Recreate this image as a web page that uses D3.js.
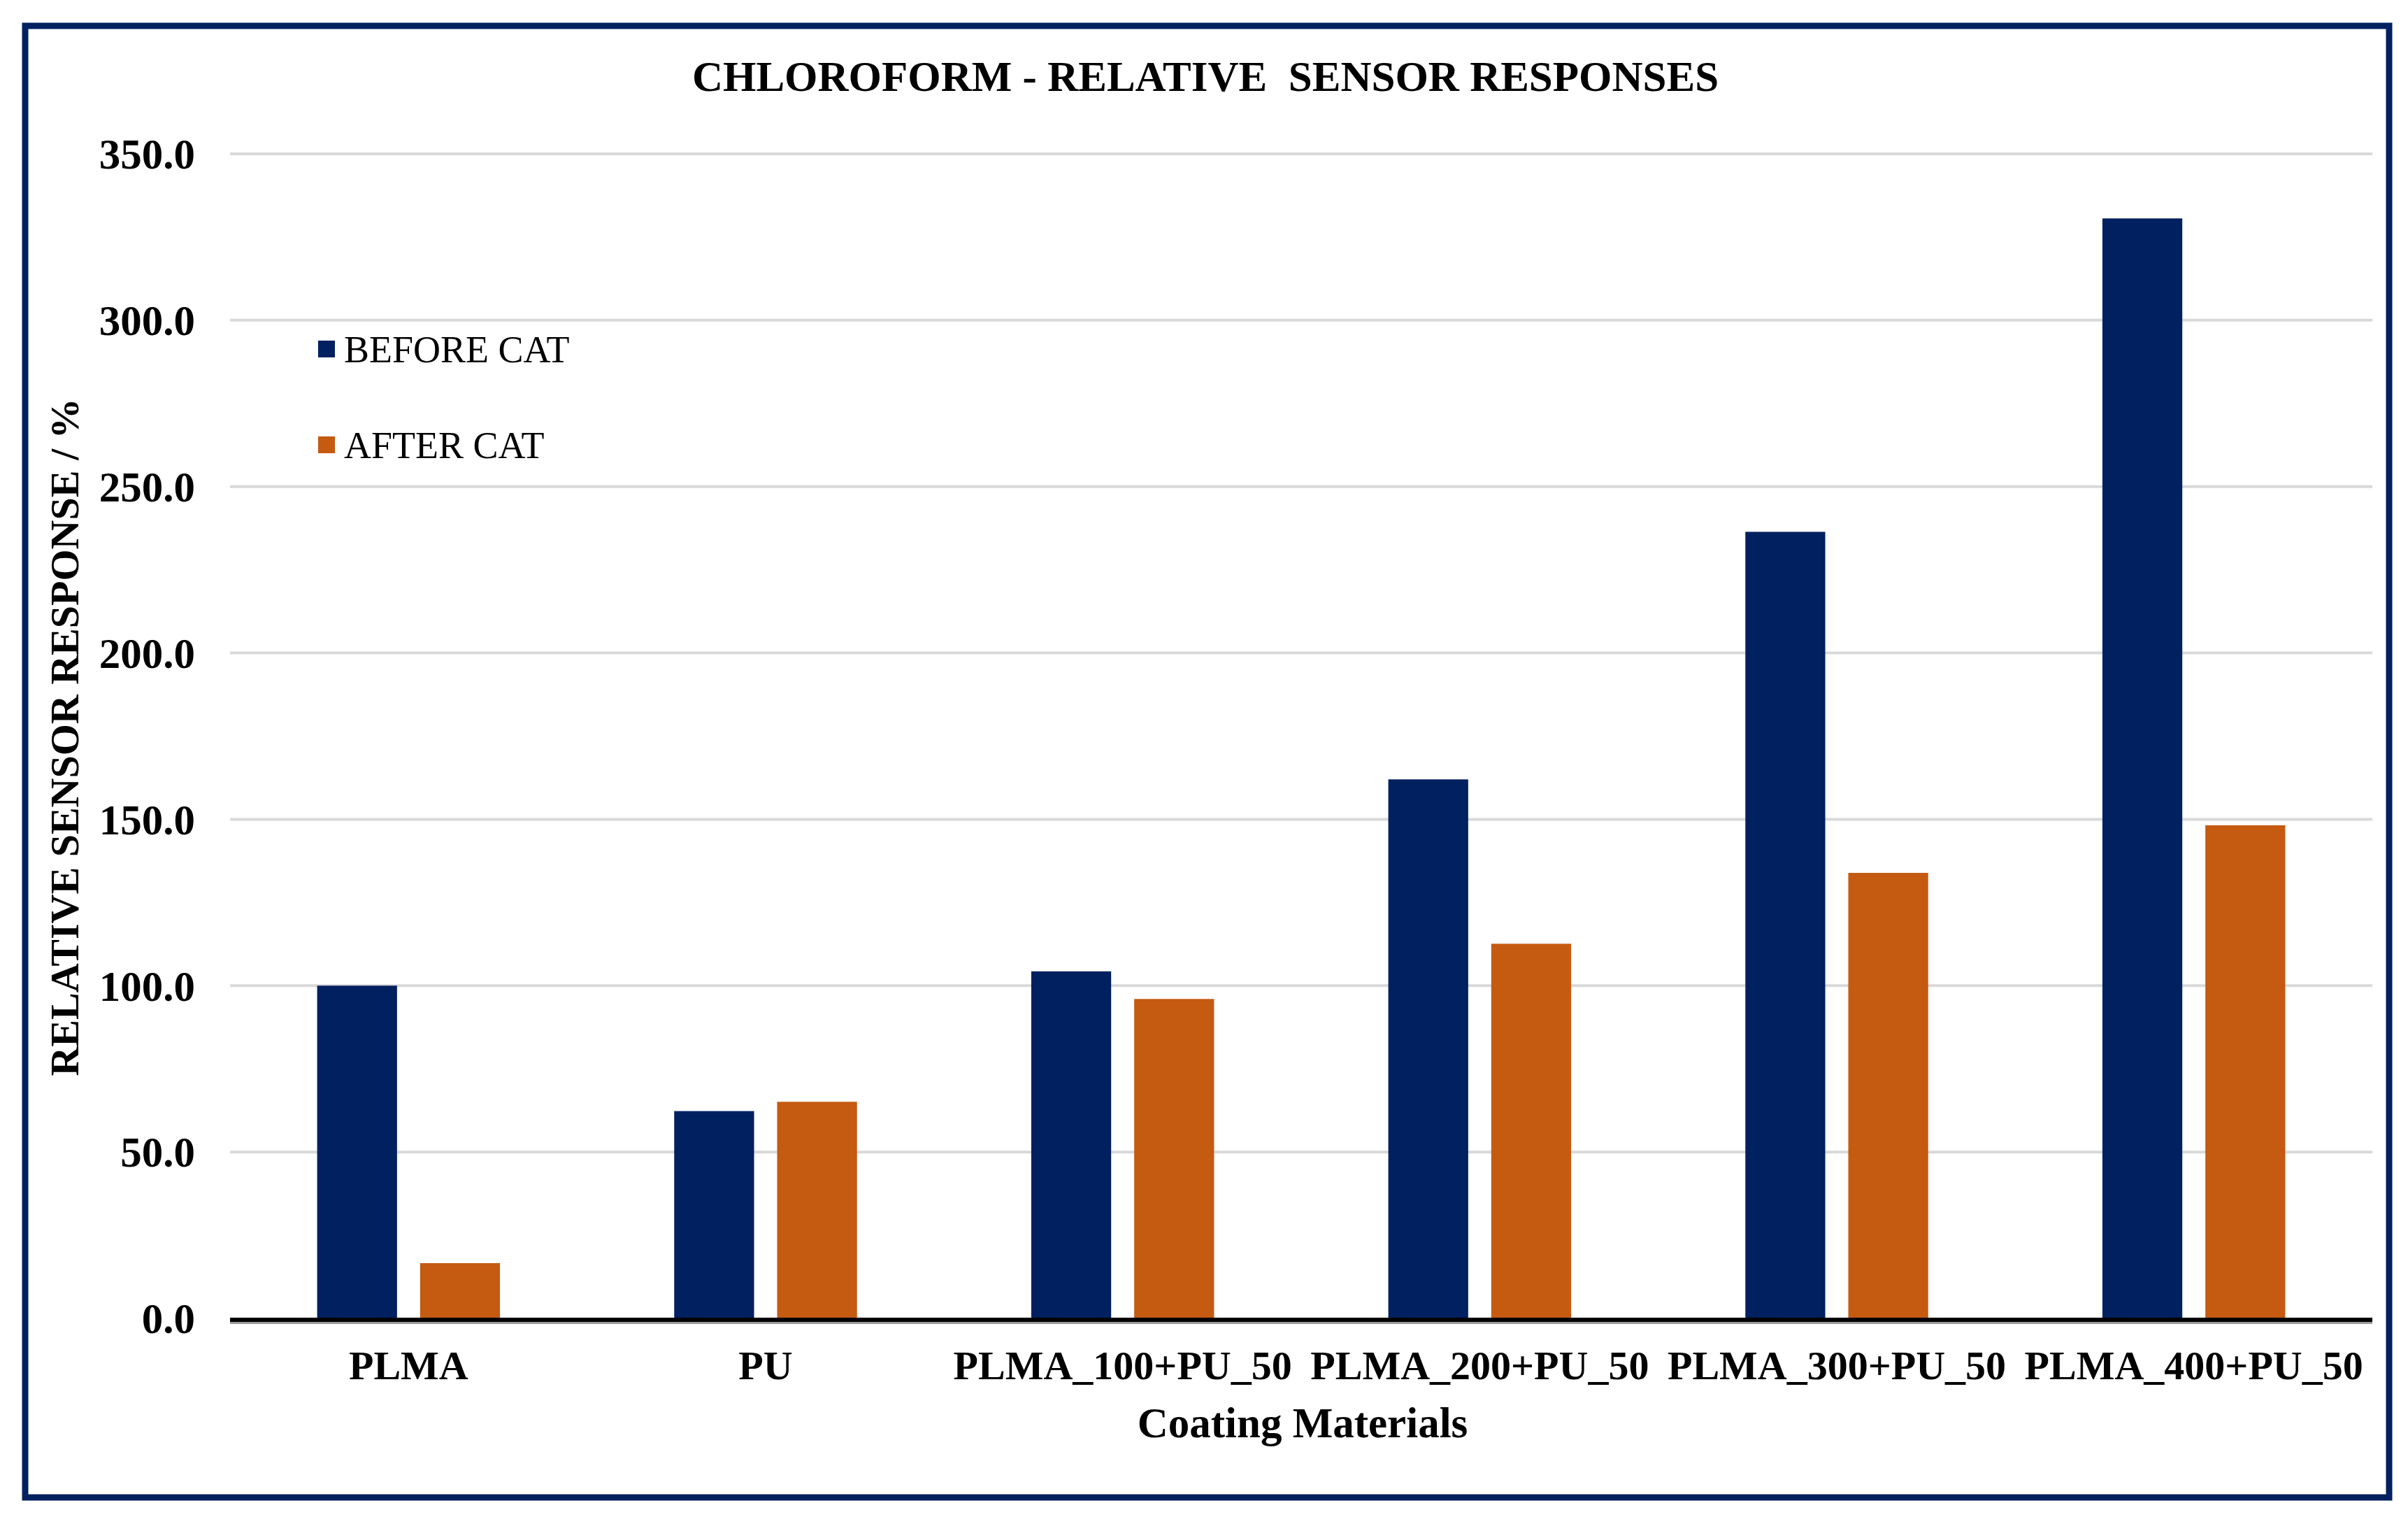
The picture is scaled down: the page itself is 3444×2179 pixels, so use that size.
<!DOCTYPE html>
<html>
<head>
<meta charset="utf-8">
<script src="https://cdn.jsdelivr.net/npm/d3@7"></script>
<style>
  html, body { margin: 0; padding: 0; background: #ffffff; }
  svg { display: block; }
  text { font-family: "Liberation Serif", "Times New Roman", serif; fill: #000000; }
</style>
</head>
<body>
<svg id="chart"></svg>
<script>
    'use strict';

    // data
    const categories = ['PLMA', 'PU', 'PLMA_100+PU_50', 'PLMA_200+PU_50', 'PLMA_300+PU_50', 'PLMA_400+PU_50'];
    const seriesNames = ['BEFORE CAT', 'AFTER CAT'];
    const beforeCat = [100.0, 62.3, 104.3, 162.0, 236.4, 330.6];
    const afterCat = [16.6, 65.1, 96.0, 112.6, 133.9, 148.2];
    const yTicks = [0, 50, 100, 150, 200, 250, 300, 350];

    const width = 3444,
        height = 2179,
        margin = {
            top: 220,
            right: 51,
            bottom: 294,
            left: 329
        },
        // Styles
        seriesColors = ['#002060', '#C55A11'],
        frameColor = '#002060',
        gridColor = '#d9d9d9';

    const svg = d3.select('#chart')
        .attr('width', width)
        .attr('height', height);

    // outer frame
    svg.append('rect')
        .attr('x', 36)
        .attr('y', 37)
        .attr('width', 3381)
        .attr('height', 2104)
        .attr('fill', '#ffffff')
        .attr('stroke', frameColor)
        .attr('stroke-width', 9);

    const innerWidth = width - margin.left - margin.right,
        innerHeight = height - margin.top - margin.bottom;

    const chart = svg.append('g')
        .attr('transform', `translate(${margin.left},${margin.top})`);

    const x0 = d3.scaleBand()
        .domain(categories)
        .range([0, innerWidth])
        .paddingInner(0.488)
        .paddingOuter(0.244);

    const x1 = d3.scaleBand()
        .domain(seriesNames)
        .range([0, x0.bandwidth()])
        .paddingInner(0.224);

    const y = d3.scaleLinear()
        .domain([0, 350])
        .range([innerHeight, 0]);

    // gridlines
    chart.append('g')
        .classed('grid', true)
        .selectAll('line')
        .data(yTicks.filter(d => d > 0))
        .join('line')
        .attr('x1', 0)
        .attr('x2', innerWidth)
        .attr('y1', d => y(d))
        .attr('y2', d => y(d))
        .attr('stroke', gridColor)
        .attr('stroke-width', 4);

    // y tick labels
    const yAxis = d3.axisLeft(y)
        .tickValues(yTicks)
        .tickFormat(d3.format('.1f'))
        .tickSize(0)
        .tickPadding(50);

    chart.append('g')
        .classed('y-axis', true)
        .call(yAxis)
        .call(g => g.select('.domain').remove())
        .selectAll('text')
        .attr('font-family', '"Liberation Serif", "Times New Roman", serif')
        .attr('font-size', 61)
        .attr('font-weight', 'bold')
        .attr('fill', '#000')
        .attr('dy', '0.34em');

    // bars
    const series = [beforeCat, afterCat];
    const groups = chart.append('g')
        .classed('bars', true)
        .selectAll('g')
        .data(categories)
        .join('g')
        .attr('transform', d => `translate(${x0(d)},0)`);

    groups.selectAll('rect')
        .data((d, i) => seriesNames.map((s, j) => ({ key: s, value: series[j][i], index: j })))
        .join('rect')
        .attr('x', d => x1(d.key))
        .attr('y', d => y(d.value))
        .attr('width', x1.bandwidth())
        .attr('height', d => y(0) - y(d.value))
        .attr('fill', d => seriesColors[d.index]);

    // baseline
    chart.append('line')
        .attr('x1', 0)
        .attr('x2', innerWidth)
        .attr('y1', y(0) + 6)
        .attr('y2', y(0) + 6)
        .attr('stroke', '#9a9a9a')
        .attr('stroke-width', 4);
    chart.append('line')
        .attr('x1', 0)
        .attr('x2', innerWidth)
        .attr('y1', y(0) + 2)
        .attr('y2', y(0) + 2)
        .attr('stroke', '#000')
        .attr('stroke-width', 6);

    // x labels
    const xAxis = d3.axisBottom(x0)
        .tickSize(0)
        .tickPadding(46);

    chart.append('g')
        .classed('x-axis', true)
        .attr('transform', `translate(0,${innerHeight})`)
        .call(xAxis)
        .call(g => g.select('.domain').remove())
        .selectAll('text')
        .attr('font-family', '"Liberation Serif", "Times New Roman", serif')
        .attr('font-size', 58)
        .attr('font-weight', 'bold')
        .attr('fill', '#000')
        .attr('dy', '0.71em');

    // title
    svg.append('text')
        .attr('x', 1724)
        .attr('y', 130)
        .attr('text-anchor', 'middle')
        .attr('font-size', 61)
        .attr('font-weight', 'bold')
        .attr('xml:space', 'preserve')
        .text('CHLOROFORM - RELATIVE  SENSOR RESPONSES');

    // axis titles
    svg.append('text')
        .attr('x', 1863)
        .attr('y', 2055)
        .attr('text-anchor', 'middle')
        .attr('font-size', 61)
        .attr('font-weight', 'bold')
        .text('Coating Materials');

    svg.append('text')
        .attr('transform', 'translate(112,1054) rotate(-90)')
        .attr('text-anchor', 'middle')
        .attr('font-size', 58)
        .attr('font-weight', 'bold')
        .text('RELATIVE SENSOR RESPONSE / %');

    // legend
    const legend = svg.append('g')
        .classed('legend', true)
        .attr('transform', 'translate(455,499)');

    const legendItems = legend.selectAll('g')
        .data(seriesNames)
        .join('g')
        .attr('transform', (d, i) => `translate(0,${i * 137})`);

    legendItems.append('rect')
        .attr('x', 0)
        .attr('y', -12)
        .attr('width', 24)
        .attr('height', 24)
        .attr('fill', (d, i) => seriesColors[i]);

    legendItems.append('text')
        .attr('x', 37)
        .attr('y', 0)
        .attr('dy', '0.35em')
        .attr('font-size', 54)
        .text(d => d);
</script>
</body>
</html>
